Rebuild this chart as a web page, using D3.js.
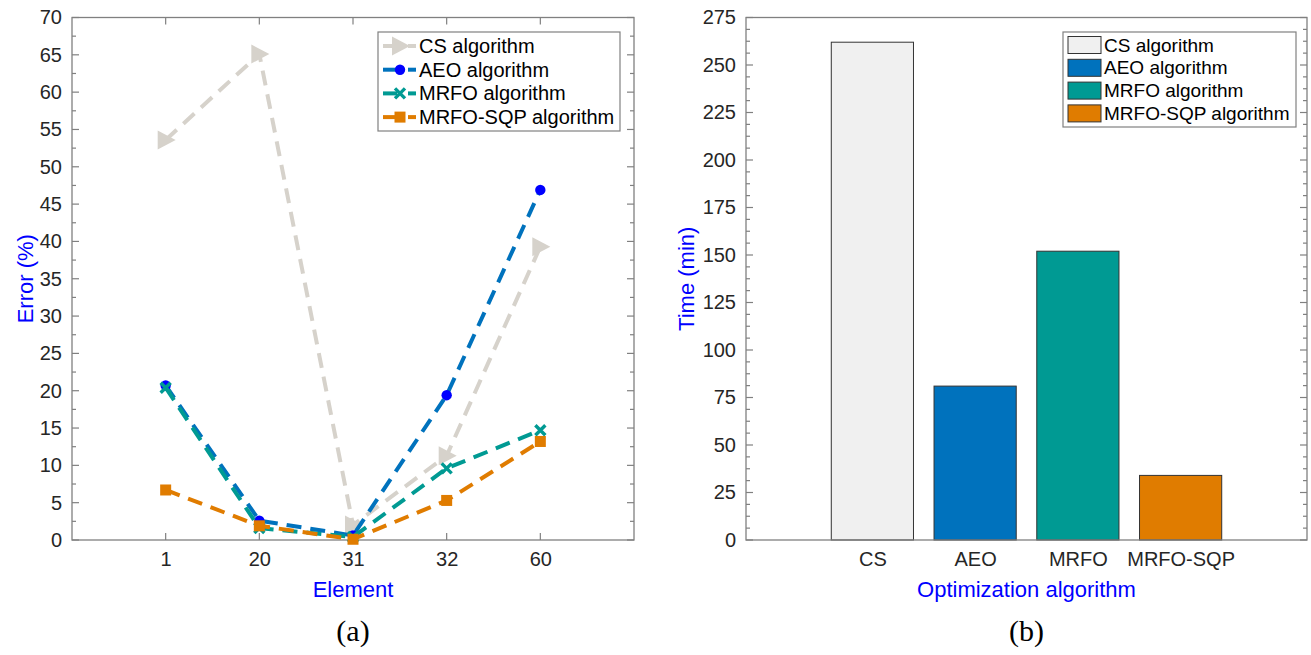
<!DOCTYPE html>
<html><head><meta charset="utf-8">
<script src="https://cdn.jsdelivr.net/npm/d3@7"></script>
<style>body{margin:0;background:#fff}svg{display:block}text{font-family:"Liberation Sans",Arial,sans-serif}text.cap{font-family:"Liberation Serif","Times New Roman",serif}</style>
</head><body><svg id="c" width="1311" height="655"></svg>
<script>
// ---- Data (a) ----
const elements = ["1","20","31","32","60"];
const csError = [53.6, 65.1, 2.0, 11.3, 39.3];
const aeoError = [20.7, 2.6, 0.6, 19.4, 46.9];
const mrfoError = [20.4, 1.6, 0.4, 9.6, 14.7];
const sqpError = [6.7, 1.9, 0.1, 5.3, 13.2];
const errorTicks = [0,5,10,15,20,25,30,35,40,45,50,55,60,65,70];
const seriesNames = ["CS algorithm","AEO algorithm","MRFO algorithm","MRFO-SQP algorithm"];
// ---- Data (b) ----
const algorithms = ["CS","AEO","MRFO","MRFO-SQP"];
const timeMin = [262, 81, 152, 34];
const timeTicks = [0,25,50,75,100,125,150,175,200,225,250,275];

const svg = d3.select("#c");
const axisGray = "#808080", tickText = "#262626";
const lineCols = ["#d6d2cb","#0072bd","#009a93","#e07c00"];
const markCols = ["#d6d2cb","#0000ff","#009a93","#e07c00"];
const barCols = ["#f0f0f0","#0072bd","#009a93","#e07c00"];
const TF = 20;

function styleTicks(sel){
  sel.selectAll("text").attr("font-size",TF).attr("fill",tickText).attr("font-family",null);
}
function frame(g, P){
  g.append("rect").attr("x",P.l).attr("y",P.t).attr("width",P.r-P.l).attr("height",P.b-P.t)
   .attr("fill","none").attr("stroke",axisGray).attr("stroke-width",1.3);
}

// ===== Chart (a) =====
const A = {l:72, r:634, t:17.5, b:540};
const xa = d3.scaleLinear().domain([0,6]).range([A.l, A.r]);
const ya = d3.scaleLinear().domain([0,70]).range([A.b, A.t]);
const ga = svg.append("g");
frame(ga, A);
d3.range(0,70.01,2.5).forEach(v=>{
  const major = v%5===0, len = major?7:4;
  [[A.l,1],[A.r,-1]].forEach(([x,d])=>{
    ga.append("line").attr("x1",x).attr("x2",x+d*len).attr("y1",ya(v)).attr("y2",ya(v)).attr("stroke",axisGray).attr("stroke-width",1.2);
  });
});
ga.append("g").attr("transform",`translate(${A.l},0)`)
  .call(d3.axisLeft(ya).tickValues(errorTicks).tickSize(0).tickPadding(10))
  .call(g=>g.select(".domain").remove()).call(styleTicks);
const xTickPos = elements.map((e,i)=>i+1);
xTickPos.forEach(p=>{
  ga.append("line").attr("x1",xa(p)).attr("x2",xa(p)).attr("y1",A.b).attr("y2",A.b-7).attr("stroke",axisGray).attr("stroke-width",1.2);
  ga.append("line").attr("x1",xa(p)).attr("x2",xa(p)).attr("y1",A.t).attr("y2",A.t+7).attr("stroke",axisGray).attr("stroke-width",1.2);
});
ga.append("g").attr("transform",`translate(0,${A.b})`)
  .call(d3.axisBottom(xa).tickValues(xTickPos).tickFormat((d,i)=>elements[i]).tickSize(0).tickPadding(12))
  .call(g=>g.select(".domain").remove()).call(styleTicks);
ga.append("text").attr("x",(A.l+A.r)/2).attr("y",597).attr("text-anchor","middle").attr("font-size",22).attr("fill","#0000ff").text("Element");
ga.append("text").attr("transform",`translate(33,${(A.t+A.b)/2}) rotate(-90)`).attr("text-anchor","middle").attr("font-size",22).attr("fill","#0000ff").text("Error (%)");

const allSeries = [csError, aeoError, mrfoError, sqpError];
const lineGen = d3.line().x((d,i)=>xa(i+1)).y(d=>ya(d));
function drawMarker(g, k, x, y){
  if(k===0){
    g.append("path").attr("d",`M${x-8},${y-9.5} L${x+10},${y} L${x-8},${y+9.5} Z`).attr("fill",markCols[0]);
  } else if(k===1){
    g.append("circle").attr("cx",x).attr("cy",y).attr("r",5.2).attr("fill",markCols[1]);
  } else if(k===2){
    g.append("path").attr("d",`M${x-5},${y-5} L${x+5},${y+5} M${x-5},${y+5} L${x+5},${y-5}`).attr("stroke",markCols[2]).attr("stroke-width",3.4);
  } else {
    g.append("rect").attr("x",x-5.5).attr("y",y-5.5).attr("width",11).attr("height",11).attr("fill",markCols[3]);
  }
}
allSeries.forEach((s,k)=>{
  ga.append("path").datum(s).attr("d",lineGen).attr("fill","none").attr("stroke",lineCols[k])
    .attr("stroke-width",4).attr("stroke-dasharray","15,9");
  s.forEach((v,i)=>drawMarker(ga,k,xa(i+1),ya(v)));
});
const la = ga.append("g");
la.append("rect").attr("x",378).attr("y",32).attr("width",242).attr("height",99).attr("fill","#fff").attr("stroke",axisGray).attr("stroke-width",1.2);
seriesNames.forEach((n,k)=>{
  const y = 46 + k*23.7;
  la.append("line").attr("x1",383).attr("x2",397).attr("y1",y).attr("y2",y).attr("stroke",lineCols[k]).attr("stroke-width",4);
  la.append("line").attr("x1",408).attr("x2",416).attr("y1",y).attr("y2",y).attr("stroke",lineCols[k]).attr("stroke-width",4);
  drawMarker(la,k,400,y);
  la.append("text").attr("x",419).attr("y",y+7).attr("font-size",20).attr("fill","#000").text(n);
});
svg.append("text").attr("class","cap").attr("x",(A.l+A.r)/2).attr("y",641).attr("text-anchor","middle").attr("font-size",30)
  .attr("fill","#000").text("(a)");

// ===== Chart (b) =====
const B = {l:746, r:1307, t:17.5, b:540};
const xb = d3.scaleLinear().domain([-0.23, 5.23]).range([B.l, B.r]);
const yb = d3.scaleLinear().domain([0,275]).range([B.b, B.t]);
const gb = svg.append("g");
d3.range(0,275.01,6.25).forEach(v=>{
  const major = Math.abs(v%25)<1e-9, len = major?7:4;
  [[B.l,1],[B.r,-1]].forEach(([x,d])=>{
    gb.append("line").attr("x1",x).attr("x2",x+d*len).attr("y1",yb(v)).attr("y2",yb(v)).attr("stroke",axisGray).attr("stroke-width",1.2);
  });
});
const barW = (xb(1)-xb(0))*0.8;
gb.selectAll("rect.bar").data(timeMin).enter().append("rect").attr("class","bar")
  .attr("x",(d,i)=>xb(i+1)-barW/2)
  .attr("y",d=>yb(d)).attr("width",barW).attr("height",d=>B.b-yb(d))
  .attr("fill",(d,i)=>barCols[i]).attr("stroke","#333").attr("stroke-width",1);
frame(gb, B);
gb.append("g").attr("transform",`translate(${B.l},0)`)
  .call(d3.axisLeft(yb).tickValues(timeTicks).tickSize(0).tickPadding(10))
  .call(g=>g.select(".domain").remove()).call(styleTicks);
gb.append("g").attr("transform",`translate(0,${B.b})`)
  .call(d3.axisBottom(xb).tickValues(algorithms.map((a,i)=>i+1)).tickFormat((d,i)=>algorithms[i]).tickSize(0).tickPadding(12))
  .call(g=>g.select(".domain").remove()).call(styleTicks);
gb.append("text").attr("x",(B.l+B.r)/2).attr("y",597).attr("text-anchor","middle").attr("font-size",22).attr("fill","#0000ff").text("Optimization algorithm");
gb.append("text").attr("transform",`translate(694,${(B.t+B.b)/2}) rotate(-90)`).attr("text-anchor","middle").attr("font-size",22).attr("fill","#0000ff").text("Time (min)");
const lb = gb.append("g");
lb.append("rect").attr("x",1063).attr("y",32).attr("width",233).attr("height",95).attr("fill","#fff").attr("stroke",axisGray).attr("stroke-width",1.2);
seriesNames.forEach((n,k)=>{
  const y = 45 + k*22.8;
  lb.append("rect").attr("x",1068).attr("y",y-8.5).attr("width",33).attr("height",17).attr("fill",barCols[k]).attr("stroke","#333").attr("stroke-width",1);
  lb.append("text").attr("x",1104).attr("y",y+6.5).attr("font-size",19).attr("fill","#000").text(n);
});
svg.append("text").attr("class","cap").attr("x",(B.l+B.r)/2).attr("y",641).attr("text-anchor","middle").attr("font-size",30)
  .attr("fill","#000").text("(b)");
</script></body></html>
